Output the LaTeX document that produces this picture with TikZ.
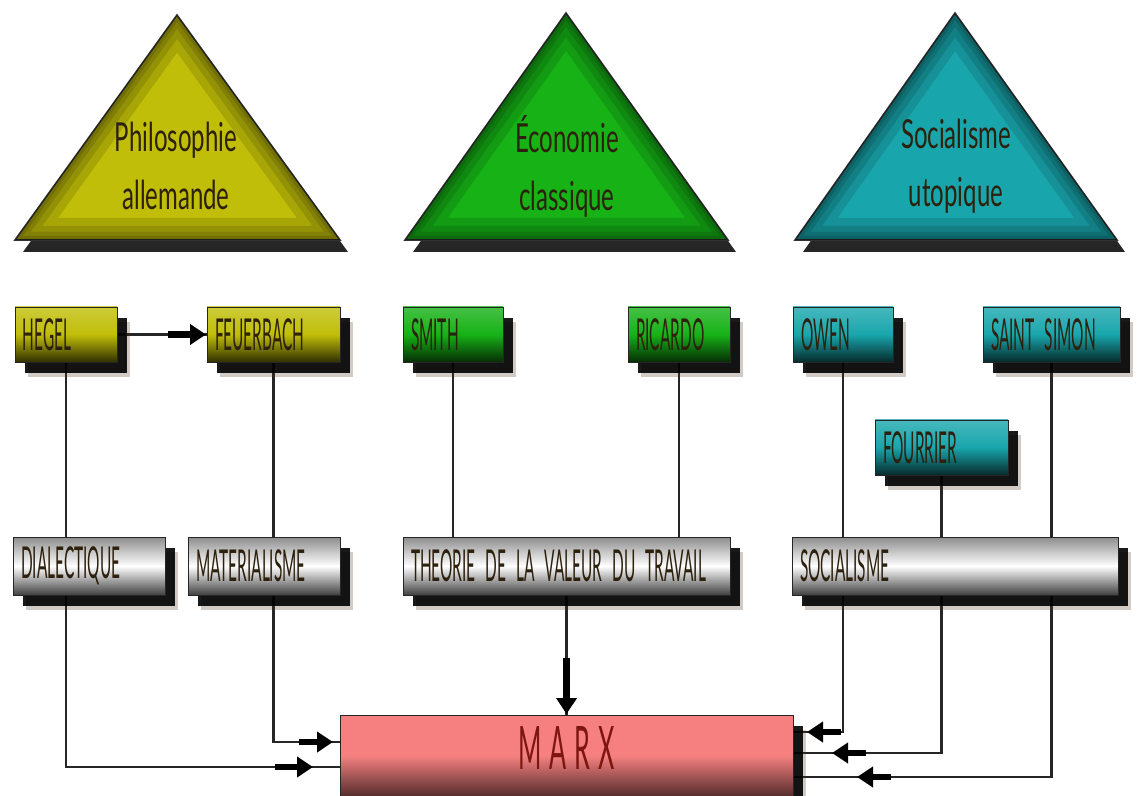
\documentclass[tikz,border=0pt]{standalone}
\usepackage{fontspec}
\usetikzlibrary{shadows,decorations.markings,arrows.meta}
\newfontfamily\capsfont{Lato}[FakeStretch=0.35]
\newfontfamily\lowfont{Lato}[FakeStretch=0.6]
\newfontfamily\marxfont{Lato}[FakeStretch=0.42,LetterSpace=13]
\DeclareRobustCommand\tagfont{\capsfont\fontsize{22}{24}\selectfont}
\definecolor{philo}{RGB}{192,190,8}
\definecolor{eco}{RGB}{22,178,22}
\definecolor{soc}{RGB}{24,166,172}
\definecolor{marxpink}{RGB}{246,128,128}
\definecolor{ink}{RGB}{45,32,12}
\definecolor{marxink}{RGB}{125,22,14}
\pgfdeclarelayer{wires}
\pgfsetlayers{wires,main}

\begin{document}
\begin{tikzpicture}[x=0.5pt,y=-0.5pt,
        card/.style={rectangle,draw=black!85,anchor=north west,outer sep=0pt,
            inner xsep=4pt,inner ysep=0pt,minimum height=27.5pt,
            text=ink,font=\tagfont,execute at begin node={\spaceskip=5pt\relax},
            drop shadow={shadow xshift=6.5pt,shadow yshift=-7.5pt,opacity=0.25,fill=black!60!brown},
            drop shadow={shadow xshift=5pt,shadow yshift=-5.5pt,opacity=0.9,fill=black}},
        plate/.style={card,minimum height=29pt,top color=black!45,bottom color=black!75,middle color=white},
        link/.style={draw=black!85,line width=1.2pt},
        fat/.style={draw=black,line width=3.2pt,-{Triangle[length=8pt,width=10pt]}},
        headat/.style 2 args={postaction={decorate},decoration={markings,
            mark=at position #1 with {\draw[fat] (-#2,0) -- (0,0);}}},
        pyramid/.style={draw=black!80,thick,
            drop shadow={shadow xshift=4pt,shadow yshift=-6pt,opacity=0.85,fill=black}},
        rim/.style={line width=#1,draw=black,opacity=0.12},
        pyrtext/.style={align=center,text=ink,font=\lowfont\fontsize{20}{29}\selectfont}]
    \useasboundingbox (0,0) rectangle (1140,796);

    % the three sources
    \coordinate (pl) at (15,240);  \coordinate (pt) at (177,15);  \coordinate (pr) at (340,240);
    \coordinate (el) at (405,240); \coordinate (et) at (566,13);  \coordinate (er) at (728,240);
    \coordinate (sl) at (795,240); \coordinate (st) at (955,13);  \coordinate (sr) at (1117,240);

    \filldraw[pyramid,fill=philo] (pl) -- (pt) -- (pr) -- cycle;
    \begin{scope}
        \clip (pl) -- (pt) -- (pr) -- cycle;
        \draw[rim=22pt] (pl) -- (pt) -- (pr) -- cycle;
        \draw[rim=14pt] (pl) -- (pt) -- (pr) -- cycle;
        \draw[rim=8pt] (pl) -- (pt) -- (pr) -- cycle;
        \draw[rim=4pt] (pl) -- (pt) -- (pr) -- cycle;
    \end{scope}
    \filldraw[pyramid,fill=eco] (el) -- (et) -- (er) -- cycle;
    \begin{scope}
        \clip (el) -- (et) -- (er) -- cycle;
        \draw[rim=22pt] (el) -- (et) -- (er) -- cycle;
        \draw[rim=14pt] (el) -- (et) -- (er) -- cycle;
        \draw[rim=8pt] (el) -- (et) -- (er) -- cycle;
        \draw[rim=4pt] (el) -- (et) -- (er) -- cycle;
    \end{scope}
    \filldraw[pyramid,fill=soc] (sl) -- (st) -- (sr) -- cycle;
    \begin{scope}
        \clip (sl) -- (st) -- (sr) -- cycle;
        \draw[rim=22pt] (sl) -- (st) -- (sr) -- cycle;
        \draw[rim=14pt] (sl) -- (st) -- (sr) -- cycle;
        \draw[rim=8pt] (sl) -- (st) -- (sr) -- cycle;
        \draw[rim=4pt] (sl) -- (st) -- (sr) -- cycle;
    \end{scope}

    \node[pyrtext] (philosophie) at (176,166) {Philosophie\\allemande};
    \node[pyrtext] (economie) at (567,166) {Économie\\classique};
    \node[pyrtext] (utopie) at (956,166) {Socialisme\\utopique};

    % authors
    \begin{scope}[every node/.style={card,top color=philo!80!white,bottom color=philo!25!black,middle color=philo}]
        \node (hegel) at (15,307) [text width=43pt] {HEGEL};
        \node (feuerbach) at (207,307) [text width=58.5pt] {FEUERBACH};
    \end{scope}
    \begin{scope}[every node/.style={card,top color=eco!80!white,bottom color=eco!25!black,middle color=eco}]
        \node (smith) at (403,307) [text width=42pt] {SMITH};
        \node (ricardo) at (628,307) [text width=43pt] {RICARDO};
    \end{scope}
    \begin{scope}[every node/.style={card,top color=soc!80!white,bottom color=soc!25!black,middle color=soc}]
        \node (owen) at (793,307) [text width=42pt] {OWEN};
        \node (saintsimon) at (983,307) [text width=60.5pt] {SAINT SIMON};
        \node (fourrier) at (875,420) [text width=58.5pt] {FOURRIER};
    \end{scope}

    % ideas
    \begin{scope}[every node/.style={plate}]
        \node (dialectique) at (13,537) [text width=68pt] {DIALECTIQUE};
        \node (materialisme) at (188,537) [text width=68pt] {MATERIALISME};
        \node (theorie) at (403,537) [text width=155.5pt] {THEORIE DE LA VALEUR DU TRAVAIL};
        \node (socialisme) at (792,537) [text width=155pt] {SOCIALISME};
    \end{scope}

    \node[card,align=center,minimum width=226.5pt,minimum height=40.5pt,
        text height=21.5pt,text depth=8pt,
        top color=marxpink,bottom color=marxpink!35!black,middle color=marxpink,
        text=marxink,font=\marxfont\fontsize{30}{36}\selectfont] (marx) at (340,715) {MARX};

    \begin{pgfonlayer}{wires}
        \fill[white] (0,0) rectangle (1140,796);
        \draw[link,headat={-0.5pt}{19pt}] (hegel) -- (feuerbach);
        \draw[link] (hegel) -- (hegel |- dialectique.north);
        \draw[link,headat={-13.5pt}{19pt}] (dialectique.south -| hegel) |- ([yshift=-5.75pt]marx.west);
        \draw[link] (feuerbach) -- (feuerbach |- materialisme.north);
        \draw[link,headat={-3.5pt}{17pt}] (materialisme.south -| feuerbach) |- ([yshift=6.75pt]marx.west);
        \draw[link] (smith) -- (smith |- theorie.north);
        \draw[link] (ricardo) -- (ricardo |- theorie.north);
        \draw[link,headat={-0.5pt}{28pt}] (theorie) -- (marx);
        \draw[link] (owen) -- (owen |- socialisme.north);
        \draw[link] (fourrier) -- (fourrier |- socialisme.north);
        \draw[link] (saintsimon) -- (saintsimon |- socialisme.north);
        \draw[link,headat={-7pt}{17pt}] (socialisme.south -| owen) |- ([yshift=11.75pt]marx.east);
        \draw[link,headat={-19.5pt}{17pt}] (socialisme.south -| fourrier) |- ([yshift=1.25pt]marx.east);
        \draw[link,headat={-32pt}{17pt}] (socialisme.south -| saintsimon) |- ([yshift=-10.75pt]marx.east);
    \end{pgfonlayer}
\end{tikzpicture}
\end{document}
